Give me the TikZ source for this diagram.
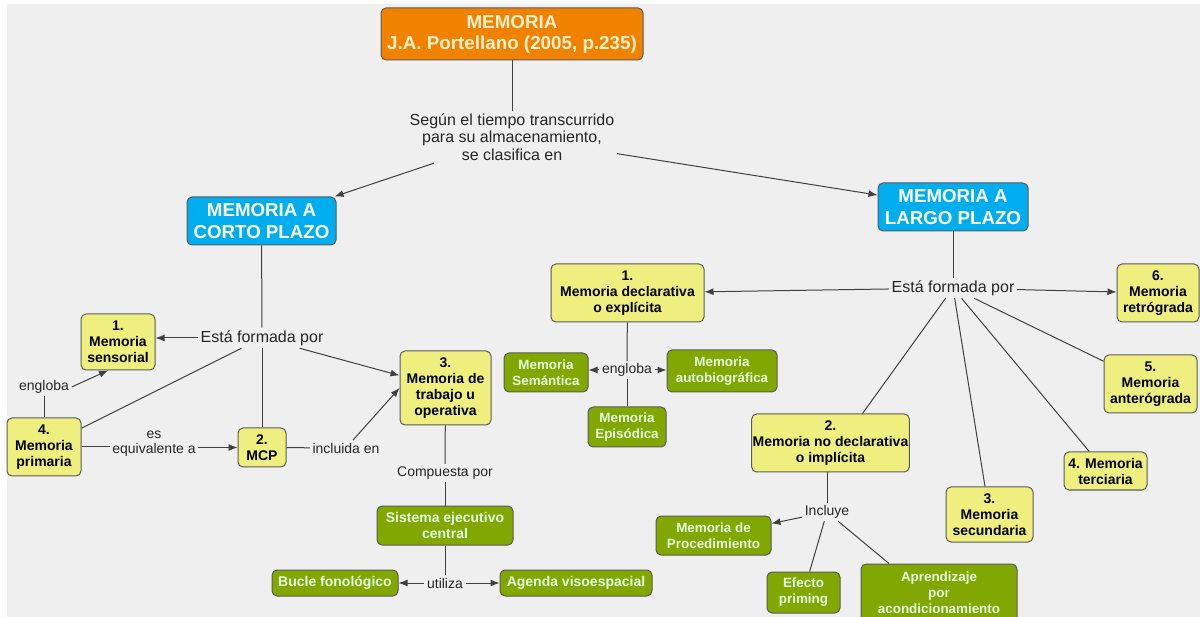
\documentclass[tikz,border=0pt]{standalone}
\usepackage{fontspec}
\setmainfont{Liberation Sans}
\usepackage{xcolor}
\usetikzlibrary{arrows.meta, positioning}

\definecolor{mapbg}{HTML}{EFEFEF}
\definecolor{cyellow}{HTML}{EFEF80}
\definecolor{cgreen}{HTML}{80A800}
\definecolor{cblue}{HTML}{00AEEF}
\definecolor{corange}{HTML}{F08200}
\definecolor{ctitle}{HTML}{FFF0CC}
\definecolor{cedge}{HTML}{5A5A5A}

\begin{document}
\begin{tikzpicture}[
  x=1pt, y=-1pt,
  blk/.style={rectangle, rounded corners=5pt, draw=cedge, line width=1pt,
              align=center, inner sep=1pt},
  ybox/.style={blk, fill=cyellow, text=black,
               font=\fontsize{14}{16}\selectfont\bfseries},
  gbox/.style={blk, fill=cgreen, text=white!90!green,
               font=\fontsize{13.4}{16}\selectfont\bfseries},
  ggbox/.style={gbox, font=\fontsize{14}{16}\selectfont\bfseries},
  cbox/.style={blk, fill=cblue, text=white,
               font=\fontsize{18.7}{21.5}\selectfont\bfseries},
  obox/.style={blk, fill=corange, text=ctitle,
               font=\fontsize{18.8}{21}\selectfont\bfseries},
  wh/.style 2 args={minimum width=#1pt, minimum height=#2pt},
  lbl/.style={inner sep=2.5pt, align=center, text=black!85,
              font=\fontsize{16}{17.5}\selectfont},
  slbl/.style={lbl, font=\fontsize{14}{15}\selectfont},
  ln/.style={line width=1pt, draw=black!75},
  arr/.style={ln, -{Latex[length=9pt, width=7pt]}},
]
\useasboundingbox (0,0) rectangle (1200,617);
\fill[white] (0,0) rectangle (1200,617);
\fill[mapbg] (7,4) rectangle (1200,617);

%% ---- Top ----
\node[obox, wh={262}{52}] (mem) at (512,34) {MEMORIA\\J.A. Portellano (2005, p.235)};
\node[lbl] (segun) at (512,137) {Según el tiempo transcurrido\\para su almacenamiento,\\se clasifica en};
\node[cbox, wh={149}{48}] (corto) at (261.5,221) {MEMORIA A\\CORTO PLAZO};
\node[cbox, wh={150}{48}] (largo) at (953,207) {MEMORIA A\\LARGO PLAZO};

\draw[ln]  (mem) -- (segun);
\draw[arr] (segun) -- (corto);
\draw[arr] (segun) -- (largo);

%% ---- Left: corto plazo ----
\node[lbl] (formL) at (262,338) {Está formada por};
\node[ybox, wh={74}{56}] (sens) at (118,342) {1.\\Memoria\\sensorial};
\node[ybox, wh={91}{74}] (trab) at (445.5,388) {3.\\Memoria de\\trabajo u\\operativa};
\node[ybox, wh={74}{58}] (prim) at (44,447) {4.\\Memoria\\primaria};
\node[ybox, wh={48}{39}] (mcp) at (262,447.5) {2.\\MCP};
\node[slbl] (englL) at (44,387) {engloba};
\node[slbl] (equiv) at (154,444) {es\\equivalente a};
\node[slbl] (incl) at (346,448) {incluida en};
\node[slbl] (comp) at (445,473) {Compuesta por};
\node[ggbox, wh={136}{39}] (sist) at (445,525.5) {Sistema ejecutivo\\central};
\node[slbl] (util) at (445,583) {utiliza};
\node[ggbox, wh={126}{26}] (bucle) at (335,583) {Bucle fonológico};
\node[ggbox, wh={152}{26}] (agenda) at (576,583) {Agenda visoespacial};

\draw[ln]  (corto) -- (formL);
\draw[arr] (formL.west) -- (formL.west -| sens.east);
\draw[arr] (formL) -- (trab);
\draw[ln]  (formL) -- (prim);
\draw[ln]  (formL) -- (mcp);
\draw[ln]  (prim) -- (englL);
\draw[arr] (englL.east) -- ([xshift=-10pt]sens.south);
\draw[ln]  (prim.east) -- (prim.east -| equiv.west);
\draw[arr] (equiv.east |- mcp) -- (mcp);
\draw[ln]  (mcp) -- (incl);
\draw[arr] (incl) -- (trab.west);
\draw[ln]  (trab) -- (comp);
\draw[ln]  (comp) -- (sist);
\draw[ln]  (sist) -- (util);
\draw[arr] (util) -- (bucle);
\draw[arr] (util) -- (agenda);

%% ---- Middle: declarativa ----
\node[ybox, wh={153}{58}] (decl) at (627.5,293) {1.\\Memoria declarativa\\o explícita};
\node[slbl] (englM) at (627,370) {engloba};
\node[gbox, wh={84}{39}] (sem) at (546,372.5) {Memoria\\Semántica};
\node[gbox, wh={110}{42}] (autob) at (722,371) {Memoria\\autobiográfica};
\node[gbox, wh={78}{40}] (epis) at (627,427) {Memoria\\Episódica};

\draw[ln]  (decl) -- (englM);
\draw[ln]  (englM) -- (epis);
\draw[arr] (englM) -- (englM -| sem.east);
\draw[arr] (englM) -- (englM -| autob.west);

%% ---- Right: largo plazo ----
\node[lbl] (formR) at (953,288) {Está formada por};
\node[ybox, wh={82}{58}] (retro) at (1158,293) {6.\\Memoria\\retrógrada};
\node[ybox, wh={93}{58}] (antero) at (1150.5,384) {5.\\Memoria\\anterógrada};
\node[ybox, wh={83}{38}] (terc) at (1105.5,471) {4. Memoria\\terciaria};
\node[ybox, wh={87}{55}] (secu) at (989.5,514.5) {3.\\Memoria\\secundaria};
\node[ybox, wh={151}{58}] (nodecl) at (830.5,443) {2.\\Memoria no declarativa\\o implícita};
\node[slbl] (incluye) at (827,512) {Incluye};
\node[gbox, wh={115}{39}] (proc) at (713.5,535.5) {Memoria de\\Procedimiento};
\node[gbox, wh={73}{41}] (efecto) at (803.5,592.5) {Efecto\\priming};
\node[gbox, wh={156}{58}] (aprend) at (939,593) {Aprendizaje\\por\\acondicionamiento};

\draw[ln]  (largo) -- (formR);
\draw[arr] (formR) -- (decl);
\draw[arr] (formR) -- (retro);
\draw[ln]  (formR) -- (antero);
\draw[ln]  (formR) -- (terc);
\draw[ln]  (formR) -- (secu);
\draw[ln]  (formR) -- ([xshift=32pt]nodecl.north);
\draw[ln]  (incluye |- nodecl.south) -- (incluye);
\draw[arr] (incluye) -- (proc);
\draw[ln]  (incluye) -- (efecto);
\draw[ln]  (incluye) -- ([xshift=-50pt]aprend.north);

\end{tikzpicture}
\end{document}
